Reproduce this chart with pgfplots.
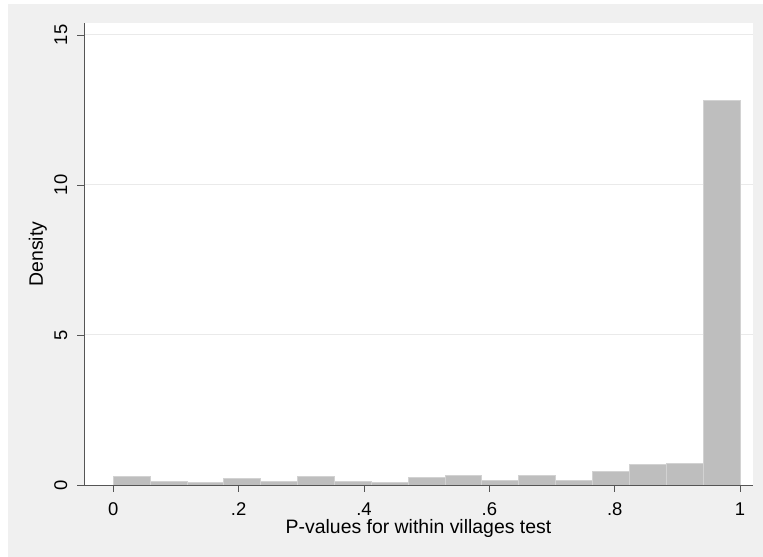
\documentclass[border=0pt]{standalone}
\usepackage{pgfplots}
\pgfplotsset{compat=1.18}
\usepackage{fontspec}
\setmainfont{Liberation Sans}
\definecolor{bgout}{RGB}{240,240,240}
\definecolor{gridc}{RGB}{234,234,234}
\definecolor{barfill}{RGB}{190,190,190}
\definecolor{barline}{RGB}{210,210,210}
\definecolor{axc}{RGB}{85,85,85}
\begin{document}
\begin{tikzpicture}
\useasboundingbox (0bp,0bp) rectangle (763bp,557bp);
\fill[white] (0bp,0bp) rectangle (763bp,557bp);
\fill[bgout] (8bp,0bp) rectangle (763bp,553bp);
\begin{axis}[
  at={(84bp,72bp)}, anchor=south west,
  scale only axis, width=669bp, height=462bp,
  xmin=-0.04675, xmax=1.0207, ymin=0, ymax=15.4,
  axis on top,
  axis x line*=bottom, axis y line*=left,
  axis line style={draw=axc, line width=0.9bp},
  axis background/.style={fill=white},
  xtick={0,0.2,0.4,0.6,0.8,1}, xticklabels={0,.2,.4,.6,.8,1},
  ytick={0,5,10,15}, yticklabels={0,5,10,15},
  tick align=outside, major tick length=7bp,
  tick style={draw=axc, line width=0.9bp},
  tick label style={font=\fontsize{18.5}{20}\selectfont, text=black},
  yticklabel style={rotate=90, anchor=base},
  xticklabel style={anchor=base},
  xticklabel shift=23bp,
  yticklabel shift=10bp,
  label style={font=\fontsize{19.5}{22}\selectfont, text=black},
  xlabel={P-values for within villages test},
  ylabel={Density},
  xlabel style={at={(axis description cs:0.5,0)}, anchor=base, yshift=-48bp},
  ylabel style={at={(axis description cs:-0.0613,0.5)}, anchor=base},
]
\addplot[gridc, line width=1bp] coordinates {(-0.04675,5) (1.0207,5)};
\addplot[gridc, line width=1bp] coordinates {(-0.04675,10) (1.0207,10)};
\addplot[gridc, line width=1bp] coordinates {(-0.04675,15) (1.0207,15)};
\addplot[ybar interval, fill=barfill, draw=barline, line width=1bp] coordinates {
(0,0.28) (0.0588235,0.13) (0.1176471,0.08) (0.1764706,0.21) (0.2352941,0.13)
(0.2941176,0.27) (0.3529412,0.12) (0.4117647,0.07) (0.4705882,0.26) (0.5294118,0.33)
(0.5882353,0.16) (0.6470588,0.32) (0.7058824,0.15) (0.7647059,0.45) (0.8235294,0.68)
(0.8823529,0.73) (0.9411765,12.82) (1,12.82)
};
\end{axis}
\end{tikzpicture}
\end{document}
